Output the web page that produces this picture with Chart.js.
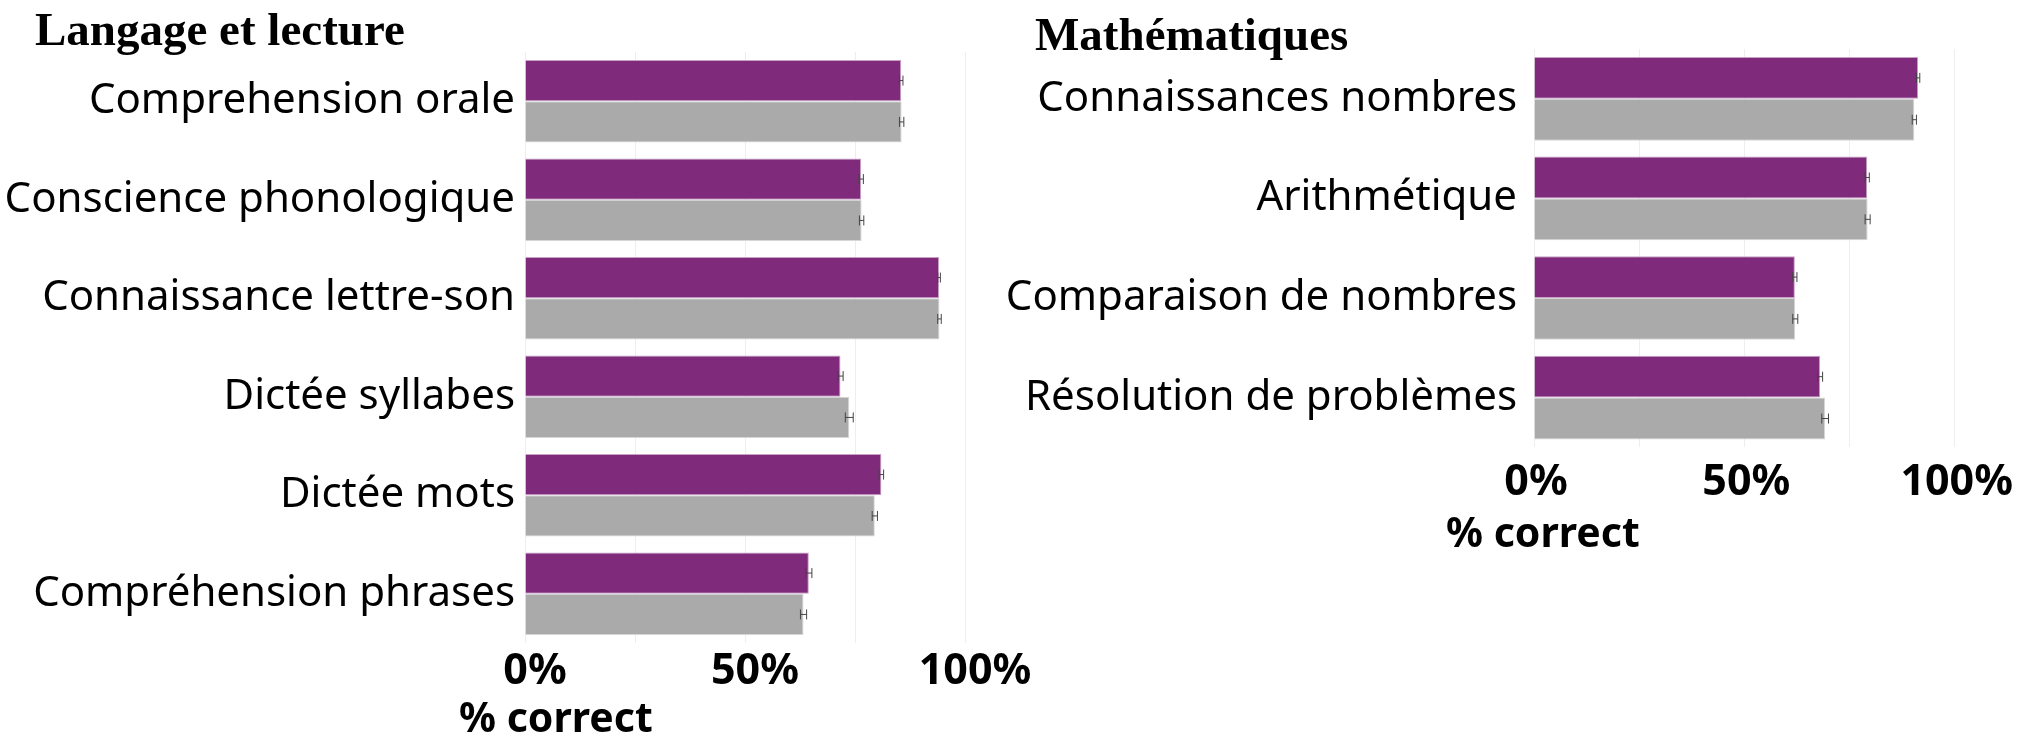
<!DOCTYPE html>
<html>
<head>
<meta charset="utf-8">
<script src="https://cdn.jsdelivr.net/npm/chart.js@4"></script>
<style>
  body { margin: 0; background: #fff; width: 2021px; height: 734px; position: relative; overflow: hidden; }
  canvas { position: absolute; }
  #cLang { left: 0; top: 0; }
  #cMath { left: 1000px; top: 0; }
  .xtitle { position: absolute; font: bold 41px "Noto Sans", sans-serif; line-height: 48px; color: #000; white-space: nowrap; }
  .ptitle { position: absolute; font: bold 47px "Liberation Serif", serif; line-height: 47px; color: #000; white-space: nowrap; }
</style>
</head>
<body>
<canvas id="cLang" width="1040" height="704"></canvas>
<canvas id="cMath" width="1021" height="530"></canvas>
<div class="ptitle" style="left:35px; top:5.6px;">Langage et lecture</div>
<div class="ptitle" style="left:1035px; top:10.6px;">Mathématiques</div>
<div class="xtitle" style="left:459px; top:692px;">% correct</div>
<div class="xtitle" style="left:1446px; top:507px;">% correct</div>
<script>
// Langage et lecture
let langCats = ["Comprehension orale", "Conscience phonologique", "Connaissance lettre-son", "Dictée syllabes", "Dictée mots", "Compréhension phrases"];
let langA = [85.5, 76.4, 94.1, 71.7, 81.0, 64.5];
let langB = [85.6, 76.5, 94.2, 73.7, 79.5, 63.3];
let langErrA = [0.4, 0.5, 0.3, 0.6, 0.5, 0.7];
let langErrB = [0.5, 0.5, 0.4, 0.9, 0.6, 0.7];

// Mathématiques
let mathCats = ["Connaissances nombres", "Arithmétique", "Comparaison de nombres", "Résolution de problèmes"];
let mathA = [91.3, 79.2, 62.0, 68.0];
let mathB = [90.4, 79.3, 62.1, 69.2];
let mathErrA = [0.4, 0.5, 0.5, 0.6];
let mathErrB = [0.5, 0.6, 0.6, 0.8];

// ticks de l'axe x
let xTicks = [0, 25, 50, 75, 100];

const PURPLE = "#7f2a7b";
const GREY = "#aaaaaa";

// barres d'erreur dessinées via les échelles
const errorBars = {
  id: "errorBars",
  afterDatasetsDraw(chart) {
    const ctx = chart.ctx;
    const xs = chart.scales.x;
    ctx.save();
    ctx.strokeStyle = "#444";
    ctx.lineWidth = 1;
    chart.data.datasets.forEach((ds, di) => {
      const meta = chart.getDatasetMeta(di);
      meta.data.forEach((bar, i) => {
        const e = ds.errors[i];
        const x1 = xs.getPixelForValue(ds.data[i] - e);
        const x2 = xs.getPixelForValue(ds.data[i] + e);
        const y = bar.y;
        ctx.beginPath();
        ctx.moveTo(x1, y); ctx.lineTo(x2, y);
        ctx.moveTo(x1, y - 5); ctx.lineTo(x1, y + 5);
        ctx.moveTo(x2, y - 5); ctx.lineTo(x2, y + 5);
        ctx.stroke();
      });
    });
    ctx.restore();
  }
};

function makeChart(id, cats, a, b, errA, errB, cfg) {
  let ctx = document.getElementById(id).getContext("2d");
  return new Chart(ctx, {
    type: "bar",
    data: {
      labels: cats,
      datasets: [
        { data: a, errors: errA, backgroundColor: PURPLE, borderColor: "#c8a0c5", borderWidth: 1, categoryPercentage: 0.84, barPercentage: 1 },
        { data: b, errors: errB, backgroundColor: GREY, borderColor: "#d6d6d6", borderWidth: 1, categoryPercentage: 0.84, barPercentage: 1 }
      ]
    },
    options: {
      indexAxis: "y",
      responsive: false,
      animation: false,
      layout: { padding: { left: 0, top: cfg.padTop, right: cfg.padRight, bottom: cfg.padBottom } },
      plugins: {
        legend: { display: false },
        tooltip: { enabled: false }
      },
      scales: {
        x: {
          min: 0, max: 100,
          afterBuildTicks: (s) => { s.ticks = xTicks.map(v => ({ value: v })); },
          grid: { color: "#eeeeee", drawTicks: false },
          border: { display: false },
          ticks: {
            autoSkip: false, maxRotation: 0, padding: cfg.tickPad, labelOffset: cfg.labelOffset, color: "#000",
            font: { family: "'Noto Sans', sans-serif", size: 43, weight: "bold" },
            callback: (v) => (v % 50 === 0 ? v + "%" : "")
          }
        },
        y: {
          afterFit: (s) => { s.width = cfg.yWidth; },
          grid: { display: false, drawTicks: false },
          border: { display: false },
          ticks: {
            padding: cfg.yPad, color: "#000",
            font: { family: "'Noto Sans', sans-serif", size: 42 }
          }
        }
      }
    },
    plugins: [errorBars]
  });
}

makeChart("cLang", langCats, langA, langB, langErrA, langErrB,
  { padTop: 52, padRight: 75, padBottom: 3.4, tickPad: 3, labelOffset: 10, yWidth: 525, yPad: 10 });
makeChart("cMath", mathCats, mathA, mathB, mathErrA, mathErrB,
  { padTop: 49, padRight: 63, padBottom: 11, tickPad: 10, labelOffset: 2, yWidth: 534, yPad: 17 });
</script>
</body>
</html>
